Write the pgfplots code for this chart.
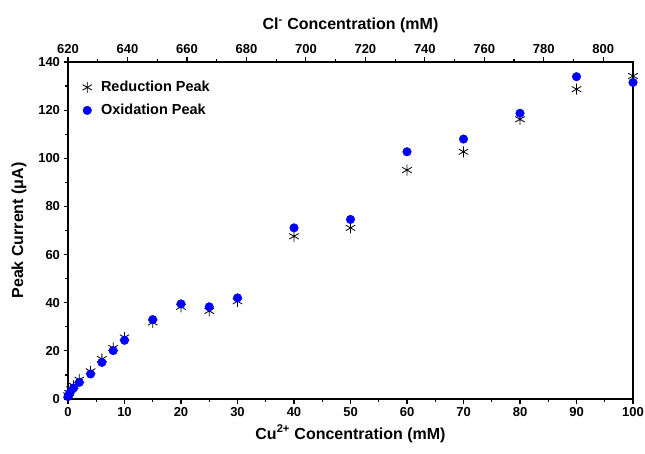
\documentclass[border=0pt]{standalone}
\usepackage{pgfplots}
\pgfplotsset{compat=1.18}
\usepackage{fontspec}
\setmainfont{Liberation Sans}

\begin{document}
\begin{tikzpicture}[x=1pt,y=1pt]
\useasboundingbox (-68,-54) rectangle (577,399);
\pgfplotsset{every axis/.append style={
  scale only axis, width=565pt, height=337pt,
  /pgf/number format/assume math mode=true,
  tick label style={font=\fontsize{13}{15}\selectfont\bfseries},
  label style={font=\fontsize{16}{18}\selectfont\bfseries},
  tick align=outside,
  major tick length=4.5pt, minor tick length=3pt,
  axis line style={line width=1.4pt},
  every tick/.style={black, line width=1.2pt},
}}
\begin{axis}[
  xmin=0, xmax=100, ymin=0, ymax=140,
  xtick={0,10,...,100}, ytick={0,20,...,140},
  minor x tick num=1, minor y tick num=1,
  xtick pos=bottom, ytick pos=left,
  xlabel={Cu\textsuperscript{2+} Concentration (mM)},
  ylabel={Peak Current (μA)},
  xlabel style={yshift=-2pt},
  ylabel style={yshift=5pt},
  clip=false,
  legend style={at={(0.02,0.955)}, anchor=north west, draw=none, fill=none,
    font=\fontsize{14.5}{16}\selectfont\bfseries, row sep=7pt,
    /tikz/every odd column/.append style={column sep=7pt}},
  legend cell align=left,
]
\addplot[only marks, mark=asterisk, mark size=5.5pt, black, line width=0.8pt]
  coordinates {(0,1.5) (0.2,2.5) (0.5,4) (1,5.5) (2,8) (4,11.5) (6,16.6) (8,21.2) (10,25.6)
    (15,31.8) (20,38.3) (25,36.6) (30,40.6) (40,67.6) (50,71.1) (60,95.1)
    (70,102.7) (80,116.2) (90,128.7) (100,134.2)};
\addlegendentry{Reduction Peak}
\addplot[only marks, mark=*, mark size=4.3pt, blue, mark options={draw=blue, fill=blue}]
  coordinates {(0,1) (0.2,2) (0.5,3.3) (1,4.6) (2,6.9) (4,10.4) (6,15.2) (8,20.1) (10,24.4)
    (15,33.0) (20,39.5) (25,38.3) (30,42.0) (40,71.1) (50,74.6) (60,102.7)
    (70,108.0) (80,118.7) (90,133.9) (100,131.5)};
\addlegendentry{Oxidation Peak}
\end{axis}
\begin{axis}[
  xmin=620, xmax=810, ymin=0, ymax=140,
  axis x line*=top, axis y line=none,
  xtick={620,640,...,800}, minor x tick num=1,
  xlabel={Cl\textsuperscript{-} Concentration (mM)},
  xlabel style={yshift=5pt},
]
\end{axis}
\end{tikzpicture}
\end{document}
